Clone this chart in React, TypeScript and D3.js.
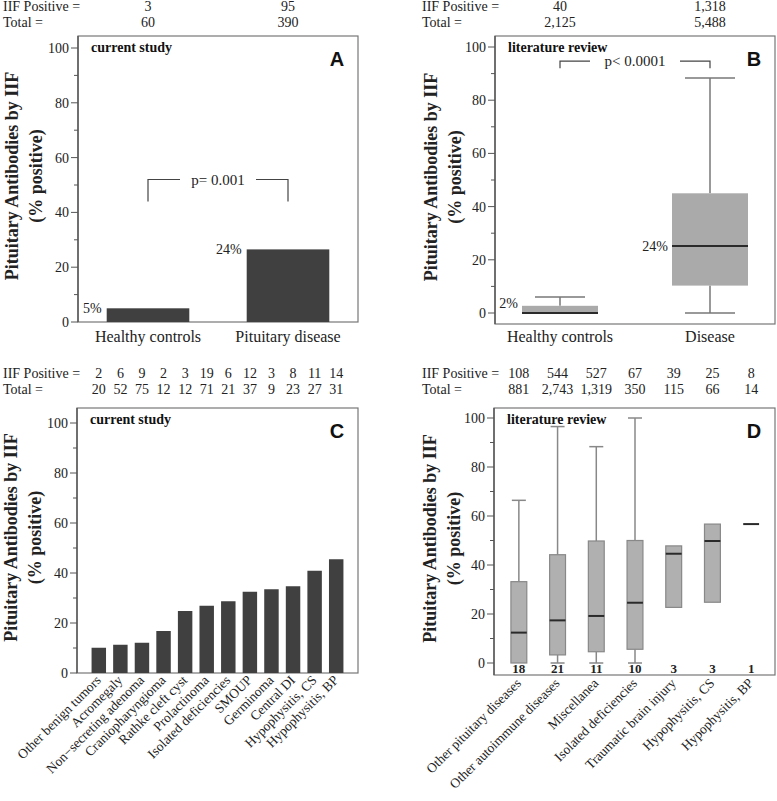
import * as d3 from "d3";

const SERIF = "'Liberation Serif', 'Times New Roman', serif";
const SANS = "'Liberation Sans', Arial, sans-serif";

const yTicks = [0, 20, 40, 60, 80, 100];
const yMinorTicks = [10, 30, 50, 70, 90];

// panel A - current study, bars
const groupsA = ["Healthy controls", "Pituitary disease"];
const pctA = [5, 26.5];
const pctLabelsA = ["5%", "24%"];
const positiveA = ["3", "95"];
const totalA = ["60", "390"];

// panel B - literature review, boxes
const groupsB = ["Healthy controls", "Disease"];
const minB = [0, 0];
const q1B = [0, 10.3];
const medianB = [0, 25.2];
const q3B = [2.7, 45];
const maxB = [6, 88.3];
const medianLabelsB = ["2%", "24%"];
const positiveB = ["40", "1,318"];
const totalB = ["2,125", "5,488"];

// panel C - current study by disease
const groupsC = [
  "Other benign tumors", "Acromegaly", "Non\u2212secreting adenoma", "Craniopharyngioma",
  "Rathke cleft cyst", "Prolactinoma", "Isolated deficiencies", "SMOUP",
  "Germinoma", "Central DI", "Hypophysitis, CS", "Hypophysitis, BP",
];
const pctC = [10.1, 11.3, 12.1, 16.8, 24.8, 26.9, 28.7, 32.5, 33.5, 34.7, 40.9, 45.5];
const positiveC = ["2", "6", "9", "2", "3", "19", "6", "12", "3", "8", "11", "14"];
const totalC = ["20", "52", "75", "12", "12", "71", "21", "37", "9", "23", "27", "31"];

// panel D - literature review by disease
const groupsD = [
  "Other pituitary diseases", "Other autoimmune diseases", "Miscellanea",
  "Isolated deficiencies", "Traumatic brain injury", "Hypophysitis, CS", "Hypophysitis, BP",
];
const minD = [0, 0, 0, 0, null, null, null];
const q1D = [0, 3.3, 4.6, 5.6, 22.7, 24.8, null];
const medianD = [12.4, 17.4, 19.2, 24.6, 44.6, 49.8, 56.7];
const q3D = [33.2, 44.2, 49.8, 50, 47.8, 56.7, null];
const maxD = [66.4, 96.5, 88.3, 100, null, null, null];
const nD = ["18", "21", "11", "10", "3", "3", "1"];
const positiveD = ["108", "544", "527", "67", "39", "25", "8"];
const totalD = ["881", "2,743", "1,319", "350", "115", "66", "14"];

type Box = { left: number; right: number; top: number; bottom: number; y0: number; y100: number };

const boxA: Box = { left: 78, right: 358, top: 36, bottom: 322, y0: 322, y100: 48 };
const boxB: Box = { left: 495, right: 775, top: 36, bottom: 324, y0: 313, y100: 47 };
const boxC: Box = { left: 77, right: 358, top: 408, bottom: 673, y0: 673, y100: 423 };
const boxD: Box = { left: 494, right: 775, top: 408, bottom: 675, y0: 663, y100: 418 };

function Frame({ b, y, title, letter, label }: any) {
  const midY = (b.top + b.bottom) / 2 - 3;
  const tx = b.left < 300 ? b.left - 60 : b.left - 58;
  return (
    <g>
      <rect x={b.left} y={b.top} width={b.right - b.left} height={b.bottom - b.top}
        fill="none" stroke="#777" strokeWidth={1.2} />
      <line x1={b.left} x2={b.left} y1={b.top} y2={b.bottom} stroke="#555" strokeWidth={1.4} />
      {yTicks.map((t) => (
        <g key={t}>
          <line x1={b.left - 7} x2={b.left} y1={y(t)} y2={y(t)} stroke="#555" strokeWidth={1} />
          <text x={b.left - 9} y={y(t)} dy="0.35em" textAnchor="end" fontSize={14}
            fontFamily={SERIF} fill="#222">{t}</text>
        </g>
      ))}
      {yMinorTicks.map((t) => (
        <line key={t} x1={b.left - 4} x2={b.left} y1={y(t)} y2={y(t)} stroke="#555" strokeWidth={1} />
      ))}
      <text transform={`translate(${tx},${midY}) rotate(-90)`} textAnchor="middle"
        fontSize={18} fontWeight="bold" fontFamily={SERIF} fill="#222">{title[0]}</text>
      <text transform={`translate(${tx + 24},${midY}) rotate(-90)`} textAnchor="middle"
        fontSize={18} fontWeight="bold" fontFamily={SERIF} fill="#222">{title[1]}</text>
      <text x={b.left + 13} y={b.top + 16} fontSize={14} fontWeight="bold"
        fontFamily={SERIF} fill="#111">{label}</text>
      <text x={b.right - 21} y={b.top + 30} textAnchor="middle" fontSize={20} fontWeight="bold"
        fontFamily={SANS} fill="#111">{letter}</text>
    </g>
  );
}

function Header({ x0, yBase, xs, pos, tot }: any) {
  return (
    <g fontFamily={SERIF} fontSize={14} fill="#222">
      <text x={x0} y={yBase}>IIF Positive =</text>
      <text x={x0} y={yBase + 16}>Total =</text>
      {xs.map((x: number, i: number) => (
        <g key={i}>
          <text x={x} y={yBase} textAnchor="middle">{pos[i]}</text>
          <text x={x} y={yBase + 16} textAnchor="middle">{tot[i]}</text>
        </g>
      ))}
    </g>
  );
}

function Bracket({ x1, x2, yTop, yBot, text, gap }: any) {
  const mid = (x1 + x2) / 2;
  return (
    <g>
      <path d={`M${x1},${yBot}V${yTop}H${mid - gap}M${mid + gap},${yTop}H${x2}V${yBot}`}
        fill="none" stroke="#444" strokeWidth={1.2} />
      <text x={mid} y={yTop} dy="0.35em" textAnchor="middle" fontSize={15}
        fontFamily={SERIF} fill="#222">{text}</text>
    </g>
  );
}

const title = ["Pituitary Antibodies by IIF", "(% positive)"];

export default function App() {
  // A
  const yA = d3.scaleLinear().domain([0, 100]).range([boxA.y0, boxA.y100]);
  const xA = d3.scaleBand().domain(groupsA).range([boxA.left, boxA.right])
    .paddingInner(0.41).paddingOuter(0.205);
  const cA = groupsA.map((g) => (xA(g) as number) + xA.bandwidth() / 2);

  // B
  const yB = d3.scaleLinear().domain([0, 100]).range([boxB.y0, boxB.y100]);
  const xB = d3.scalePoint().domain(groupsB).range([560, 710]);
  const bwB = 76;

  // C
  const yC = d3.scaleLinear().domain([0, 100]).range([boxC.y0, boxC.y100]);
  const xC = d3.scaleBand().domain(groupsC).range([88, 347]).paddingInner(0.33).paddingOuter(0.165);
  const cC = groupsC.map((g) => (xC(g) as number) + xC.bandwidth() / 2);

  // D
  const yD = d3.scaleLinear().domain([0, 100]).range([boxD.y0, boxD.y100]);
  const xD = d3.scaleBand().domain(groupsD).range([499.5, 770.5]).paddingInner(0.59).paddingOuter(0.295);
  const cD = groupsD.map((g) => (xD(g) as number) + xD.bandwidth() / 2);

  return (
    <div style={{ position: "absolute", left: 0, top: 0 }}>
      <svg width={777} height={801} style={{ display: "block", background: "#fff" }}>
        {/* Panel A */}
        <Header x0={3} yBase={11} xs={cA} pos={positiveA} tot={totalA} />
        <Frame b={boxA} y={yA} title={title} letter="A" label="current study" />
        {groupsA.map((g, i) => (
          <g key={g}>
            <rect x={xA(g)} y={yA(pctA[i])} width={xA.bandwidth()} height={yA(0) - yA(pctA[i])} fill="#404040" />
            <text x={(xA(g) as number) - 5} y={yA(pctA[i]) + 5} textAnchor="end" fontSize={14}
              fontFamily={SERIF} fill="#222">{pctLabelsA[i]}</text>
            <text x={cA[i]} y={342} textAnchor="middle" fontSize={16} fontFamily={SERIF} fill="#222">{g}</text>
          </g>
        ))}
        <Bracket x1={cA[0]} x2={cA[1]} yTop={yA(52)} yBot={yA(44)} text="p= 0.001" gap={38} />

        {/* Panel B */}
        <Header x0={422} yBase={11} xs={groupsB.map((g) => xB(g))} pos={positiveB} tot={totalB} />
        <Frame b={boxB} y={yB} title={title} letter="B" label="literature review" />
        {groupsB.map((g, i) => {
          const cx = xB(g) as number;
          return (
            <g key={g}>
              <line x1={cx} x2={cx} y1={yB(q3B[i])} y2={yB(maxB[i])} stroke="#777" strokeWidth={1.5} />
              <line x1={cx} x2={cx} y1={yB(q1B[i])} y2={yB(minB[i])} stroke="#777" strokeWidth={1.5} />
              <line x1={cx - 25} x2={cx + 25} y1={yB(maxB[i])} y2={yB(maxB[i])} stroke="#777" strokeWidth={1.5} />
              <line x1={cx - 25} x2={cx + 25} y1={yB(minB[i])} y2={yB(minB[i])} stroke="#777" strokeWidth={1.5} />
              <rect x={cx - bwB / 2} y={yB(q3B[i])} width={bwB} height={yB(q1B[i]) - yB(q3B[i])} fill="#aaaaaa" />
              <line x1={cx - bwB / 2} x2={cx + bwB / 2} y1={yB(medianB[i])} y2={yB(medianB[i])} stroke="#2a2a2a" strokeWidth={2} />
              <text x={cx - bwB / 2 - 4} y={i === 0 ? yB(q3B[i]) + 2 : yB(medianB[i]) + 5} textAnchor="end"
                fontSize={14} fontFamily={SERIF} fill="#222">{medianLabelsB[i]}</text>
              <text x={cx} y={342} textAnchor="middle" fontSize={16} fontFamily={SERIF} fill="#222">{g}</text>
            </g>
          );
        })}
        <Bracket x1={xB(groupsB[0])} x2={xB(groupsB[1])} yTop={yB(94.7)} yBot={yB(92)} text="p< 0.0001" gap={45} />

        {/* Panel C */}
        <Header x0={3} yBase={378} xs={cC} pos={positiveC} tot={totalC} />
        <Frame b={boxC} y={yC} title={title} letter="C" label="current study" />
        {groupsC.map((g, i) => (
          <g key={g}>
            <rect x={xC(g)} y={yC(pctC[i])} width={xC.bandwidth()} height={yC(0) - yC(pctC[i])} fill="#404040" />
            <text transform={`translate(${cC[i] + 3},${boxC.bottom + 8}) rotate(-45)`} textAnchor="end"
              fontSize={13.5} fontFamily={SERIF} fill="#222">{g}</text>
          </g>
        ))}

        {/* Panel D */}
        <Header x0={422} yBase={378} xs={cD} pos={positiveD} tot={totalD} />
        <Frame b={boxD} y={yD} title={title} letter="D" label="literature review" />
        {groupsD.map((g, i) => {
          const cx = cD[i];
          const w = xD.bandwidth();
          return (
            <g key={g}>
              {maxD[i] != null && (
                <g stroke="#888" strokeWidth={1.5}>
                  <line x1={cx} x2={cx} y1={yD(q3D[i] as number)} y2={yD(maxD[i] as number)} />
                  <line x1={cx - 7} x2={cx + 7} y1={yD(maxD[i] as number)} y2={yD(maxD[i] as number)} />
                </g>
              )}
              {minD[i] != null && (q1D[i] as number) > (minD[i] as number) && (
                <g stroke="#888" strokeWidth={1.5}>
                  <line x1={cx} x2={cx} y1={yD(q1D[i] as number)} y2={yD(minD[i] as number)} />
                  <line x1={cx - 7} x2={cx + 7} y1={yD(minD[i] as number)} y2={yD(minD[i] as number)} />
                </g>
              )}
              {q1D[i] != null && (
                <rect x={cx - w / 2} y={yD(q3D[i] as number)} width={w}
                  height={yD(q1D[i] as number) - yD(q3D[i] as number)} fill="#b0b0b0" stroke="#888" strokeWidth={1.2} />
              )}
              <line x1={cx - w / 2} x2={cx + w / 2} y1={yD(medianD[i])} y2={yD(medianD[i])} stroke="#2a2a2a" strokeWidth={2} />
              <text x={cx} y={boxD.bottom - 2} textAnchor="middle" fontSize={13} fontWeight="bold"
                fontFamily={SERIF} fill="#222">{nD[i]}</text>
              <text transform={`translate(${cx + 3},${boxD.bottom + 9}) rotate(-45)`} textAnchor="end"
                fontSize={13.5} fontFamily={SERIF} fill="#222">{g}</text>
            </g>
          );
        })}
      </svg>
    </div>
  );
}
